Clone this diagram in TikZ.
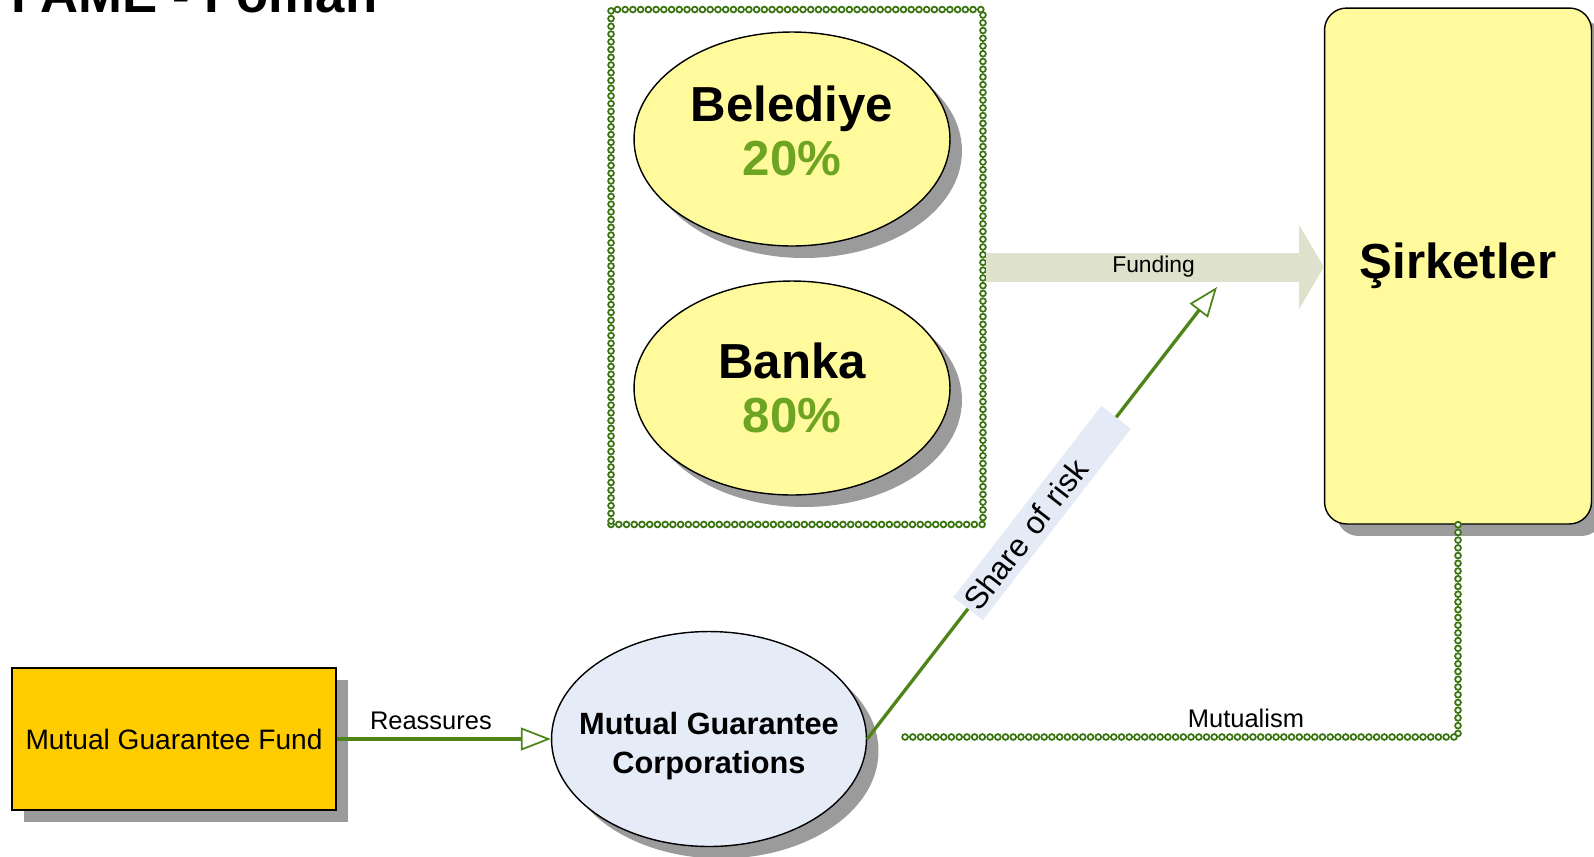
\documentclass[tikz,border=0pt]{standalone}
\usepackage{fontspec}
\setmainfont{Liberation Sans}
\usetikzlibrary{shapes.geometric,arrows.meta,shadows,positioning,decorations.markings}
\definecolor{paleyellow}{HTML}{FFFA9C}
\definecolor{fundgold}{HTML}{FFCC00}
\definecolor{corpblue}{HTML}{E6ECF7}
\definecolor{bandgray}{HTML}{DEE1CB}
\definecolor{linegreen}{HTML}{4F8518}
\definecolor{chaingreen}{HTML}{3A7410}
\definecolor{pctgreen}{HTML}{6DA422}
\definecolor{tagblue}{HTML}{E4EBF6}
\definecolor{shadowgray}{HTML}{9B9B9B}

\begin{document}
\begin{tikzpicture}[x=0.02cm,y=-0.02cm,
  shadowed/.style={drop shadow={shadow xshift=0.24cm,shadow yshift=-0.24cm,fill=shadowgray,opacity=1}},
  partner/.style={ellipse,draw=black,line width=0.8pt,fill=paleyellow,shadowed,
    minimum width=6.32cm,minimum height=4.28cm,inner sep=0pt},
  partnertext/.style={align=center,font=\fontsize{28}{31}\selectfont\bfseries},
  chain/.style={postaction={decorate,decoration={markings,
    mark=between positions 0 and 1 step 4.4pt with {\draw[chaingreen,line width=1pt,fill=white] (0,0) circle (1.65pt);}}}},
  flow/.style={draw=linegreen,line width=1.9pt,
    -{Triangle[open,line width=1pt,length=17pt,width=13pt]}},
  funding/.style={draw=bandgray,line width=16.5pt,
    -{Triangle[length=14pt,width=47pt]}}]

\useasboundingbox (0,0) rectangle (1594,856);

% title, cut at the top edge
\begin{scope}
\clip (0,0) rectangle (1594,856);
\node[anchor=base west,font=\fontsize{30}{36}\selectfont\bfseries,inner sep=0pt] (title) at (11,12) {FAME - Foman};
\end{scope}

% partners
\node[chain,minimum width=7.44cm,minimum height=10.3cm,inner sep=0pt] (grp) at (797,267) {};
\node[partner] (bel) at (792,139) {};
\node[partnertext] at ([yshift=0.16cm]bel) {Belediye\\\color{pctgreen}20\%};
\node[partner] (bank) at (792,388) {};
\node[partnertext] at (bank) {Banka\\\color{pctgreen}80\%};

% companies
\node[draw=black,line width=0.8pt,fill=paleyellow,rounded corners=0.44cm,shadowed,
  minimum width=5.34cm,minimum height=10.32cm,font=\fontsize{28}{32}\selectfont\bfseries] (sirk) at (1458,266) {Şirketler};

% fund and corporations
\node[draw=black,line width=0.8pt,fill=fundgold,shadowed,minimum width=6.48cm,minimum height=2.84cm,
  font=\fontsize{16}{19}\selectfont] (mgf) at (174,739) {Mutual Guarantee Fund};
\node[ellipse,draw=black,line width=0.8pt,fill=corpblue,shadowed,minimum width=6.3cm,minimum height=4.3cm,
  inner sep=0pt] (mgc) at (709,739) {};
\node[align=center,font=\fontsize{17.5}{22}\selectfont\bfseries] at ([yshift=-0.14cm]mgc) {Mutual Guarantee\\Corporations};

\coordinate (riskend) at (1217,287);
\coordinate (mutend) at (900,737);

% connectors
\draw[funding,shorten <=1.5pt] (grp.east) -- (grp.east -| sirk.west)
  node[midway,font=\fontsize{13}{15}\selectfont] {Funding};
\draw[flow] (mgf.east) -- (mgc.west)
  node[pos=0.44,above=1pt,font=\fontsize{14.5}{17}\selectfont] {Reassures};
\draw[flow] (mgc.east) -- (riskend)
  node[pos=0.5,sloped,fill=tagblue,text width=4.7cm,align=left,inner xsep=2pt,inner ysep=4pt,
    font=\fontsize{18}{21}\selectfont] {Share of risk};
\path[chain] (sirk.south) |- (mutend)
  node[pos=0.69,above=2pt,font=\fontsize{14.5}{17}\selectfont] {Mutualism};

\end{tikzpicture}
\end{document}
